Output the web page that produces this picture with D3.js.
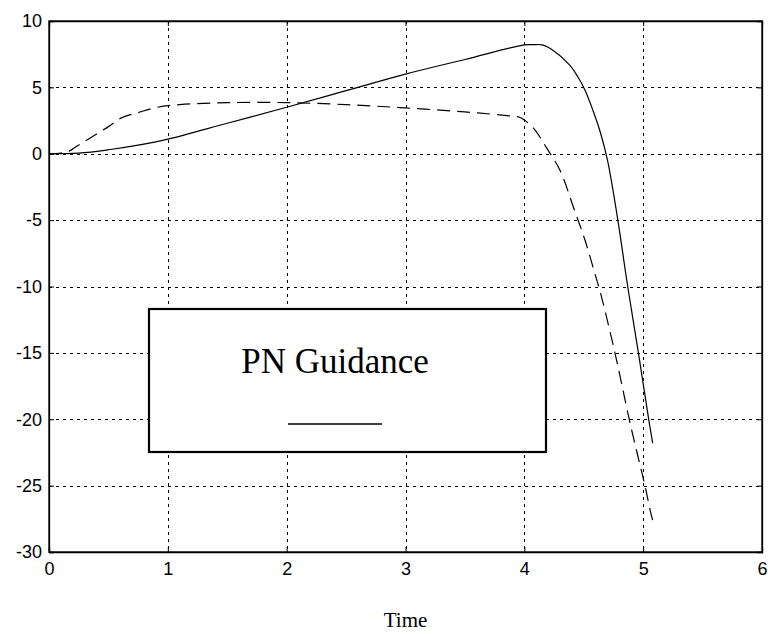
<!DOCTYPE html>
<html>
<head>
<meta charset="utf-8">
<script src="https://cdn.jsdelivr.net/npm/d3@7"></script>
<style>
  html, body { margin: 0; padding: 0; background: #fff; }
  svg { display: block; }
</style>
</head>
<body>
<svg id="chart" width="768" height="634"></svg>
<script>
// Guidance response over time: solid trace and dashed trace
const solidTime = [0, 0.25, 0.5, 0.75, 1, 1.5, 2, 2.5, 3, 3.5, 4, 4.08, 4.15, 4.24, 4.38, 4.45, 4.51, 4.58, 4.64, 4.7, 4.78, 4.87, 4.96, 5.05, 5.08];
const solidValue = [0, 0.05, 0.3, 0.65, 1.1, 2.3, 3.5, 4.75, 6.0, 7.1, 8.2, 8.22, 8.2, 7.8, 6.7, 5.8, 4.8, 3.2, 1.6, -0.5, -4.6, -10, -15, -20.2, -21.8];

const dashTime = [0, 0.1, 0.17, 0.24, 0.43, 0.51, 0.61, 0.75, 0.91, 1.1, 1.5, 2, 2.5, 3, 3.5, 3.88, 3.96, 4.0, 4.08, 4.19, 4.3, 4.42, 4.51, 4.58, 4.65, 4.77, 4.89, 5.02, 5.06, 5.08];
const dashValue = [0, 0.05, 0.2, 0.6, 1.65, 2.1, 2.7, 3.1, 3.5, 3.7, 3.85, 3.85, 3.7, 3.45, 3.15, 2.85, 2.75, 2.55, 1.9, 0.4, -1.25, -4.2, -6.5, -8.6, -10.8, -15.3, -20.3, -25.2, -26.9, -27.6];

const xTicks = [0, 1, 2, 3, 4, 5, 6];
const yTicks = [-30, -25, -20, -15, -10, -5, 0, 5, 10];
const xLabel = "Time";
const legendText = "PN Guidance";

const svg = d3.select("#chart");
const plot = { left: 49, right: 762, top: 21, bottom: 552 };

const x = d3.scaleLinear().domain([0, 6]).range([plot.left, plot.right]);
const y = d3.scaleLinear().domain([-30, 10]).range([plot.bottom, plot.top]);

// dotted grid
const grid = svg.append("g").attr("stroke", "#000").attr("stroke-width", 1)
  .attr("stroke-dasharray", "3,4").attr("fill", "none");
grid.selectAll("line.gx").data(xTicks.slice(1, -1)).join("line")
  .attr("x1", d => Math.round(x(d)) + 0.5).attr("x2", d => Math.round(x(d)) + 0.5)
  .attr("y1", plot.top).attr("y2", plot.bottom);
grid.selectAll("line.gy").data(yTicks.slice(1, -1)).join("line")
  .attr("y1", d => Math.round(y(d)) + 0.5).attr("y2", d => Math.round(y(d)) + 0.5)
  .attr("x1", plot.left).attr("x2", plot.right);

// data traces
const line = d3.line().x(d => x(d[0])).y(d => y(d[1])).curve(d3.curveCatmullRom.alpha(0.5));
const solid = solidTime.map((t, i) => [t, solidValue[i]]);
const dashed = dashTime.map((t, i) => [t, dashValue[i]]);

svg.append("path").datum(dashed).attr("d", line)
  .attr("fill", "none").attr("stroke", "#000").attr("stroke-width", 1.2)
  .attr("stroke-dasharray", "13,7");
svg.append("path").datum(solid).attr("d", line)
  .attr("fill", "none").attr("stroke", "#000").attr("stroke-width", 1.2);

// axes with inward ticks; plain hyphen for negatives
const tickLen = 5;
const axisFont = "'Liberation Sans', Arial, sans-serif";
const fmt = d => String(d);
const xAxis = svg.append("g").attr("transform", `translate(0,${plot.bottom})`)
  .call(d3.axisBottom(x).tickValues(xTicks).tickSize(-tickLen).tickPadding(10).tickFormat(fmt));
const yAxis = svg.append("g").attr("transform", `translate(${plot.left},0)`)
  .call(d3.axisLeft(y).tickValues(yTicks).tickSize(-tickLen).tickPadding(7).tickFormat(fmt));
const xAxisTop = svg.append("g").attr("transform", `translate(0,${plot.top})`)
  .call(d3.axisTop(x).tickValues(xTicks).tickSize(-tickLen).tickFormat(""));
const yAxisRight = svg.append("g").attr("transform", `translate(${plot.right},0)`)
  .call(d3.axisRight(y).tickValues(yTicks).tickSize(-tickLen).tickFormat(""));

[xAxis, yAxis, xAxisTop, yAxisRight].forEach(g => {
  g.select(".domain").attr("stroke", "#000").attr("stroke-width", 1.3);
  g.selectAll(".tick line").attr("stroke", "#000");
  g.selectAll(".tick text").attr("fill", "#000")
    .style("font-family", axisFont).style("font-size", "18px");
});
xAxis.selectAll(".tick text").attr("dy", "0.71em");

// box frame
svg.append("rect")
  .attr("x", plot.left).attr("y", plot.top)
  .attr("width", plot.right - plot.left).attr("height", plot.bottom - plot.top)
  .attr("fill", "none").attr("stroke", "#000").attr("stroke-width", 1.3);

// x-axis title
svg.append("text")
  .attr("x", (plot.left + plot.right) / 2).attr("y", 627)
  .attr("text-anchor", "middle")
  .style("font-family", "'Liberation Serif', 'Times New Roman', serif")
  .style("font-size", "21px").attr("fill", "#000")
  .text(xLabel);

// legend
const legend = svg.append("g");
legend.append("rect")
  .attr("x", 149).attr("y", 309).attr("width", 397).attr("height", 143)
  .attr("fill", "#fff").attr("stroke", "#000").attr("stroke-width", 2.2);
legend.append("text")
  .attr("x", 335).attr("y", 373).attr("text-anchor", "middle")
  .style("font-family", "'Liberation Serif', 'Times New Roman', serif")
  .style("font-size", "35px").attr("fill", "#000")
  .text(legendText);
legend.append("line")
  .attr("x1", 288).attr("x2", 382).attr("y1", 424).attr("y2", 424)
  .attr("stroke", "#000").attr("stroke-width", 1.5);
</script>
</body>
</html>
